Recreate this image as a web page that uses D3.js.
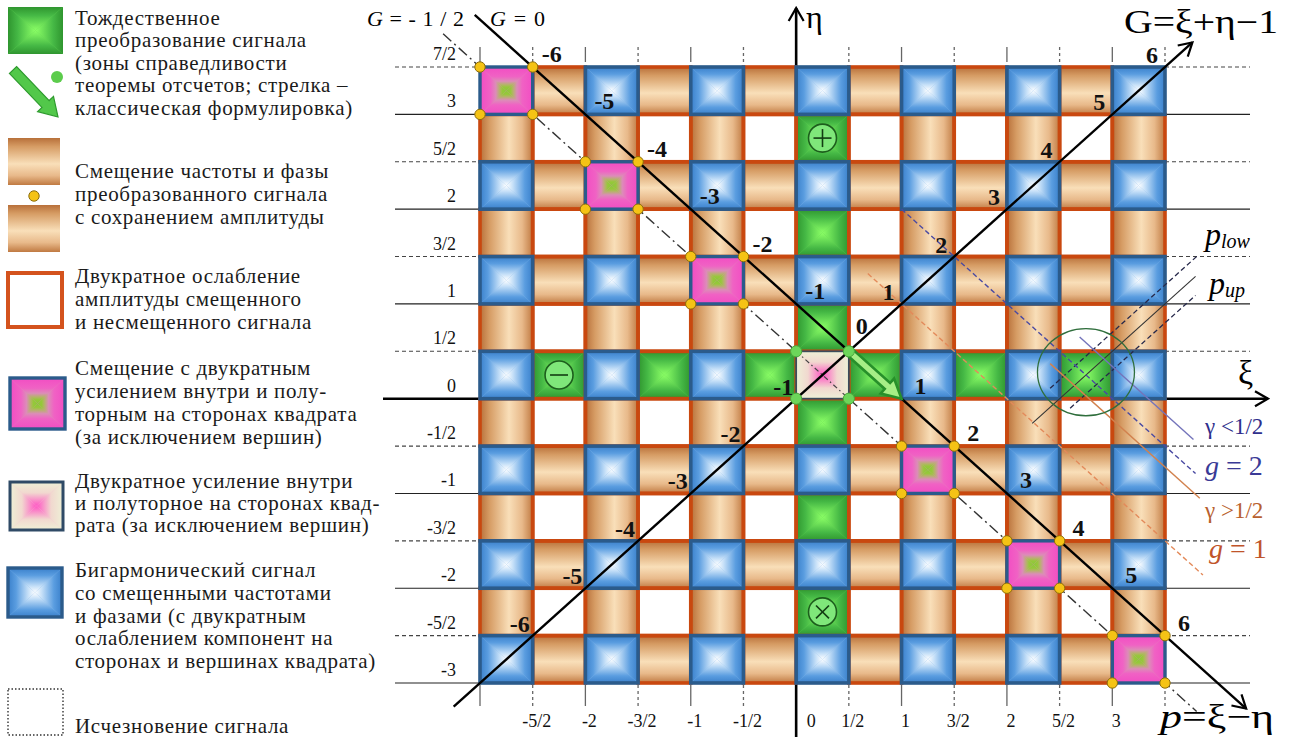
<!DOCTYPE html>
<html>
<head>
<meta charset="utf-8">
<script src="https://cdn.jsdelivr.net/npm/d3@7"></script>
<style>
  body { margin: 0; background: #fff; }
  svg { display: block; }
  svg text { font-family: "Liberation Serif", "Times New Roman", Tinos, Times, "DejaVu Serif", "Noto Serif", serif; }
</style>
</head>
<body>
<svg id="chart" width="1291" height="743"></svg>
<script>
// ---- data -------------------------------------------------------------
// half-step grid positions along ξ and η
const xTickValues = [-3, -2.5, -2, -1.5, -1, -0.5, 0, 0.5, 1, 1.5, 2, 2.5, 3, 3.5];
const xTickLabels = ["", "-5/2", "-2", "-3/2", "-1", "-1/2", "0", "1/2", "1", "3/2", "2", "5/2", "3", ""];
const yTickValues = [3.5, 3, 2.5, 2, 1.5, 1, 0.5, 0, -0.5, -1, -1.5, -2, -2.5, -3];
const yTickLabels = ["7/2", "3", "5/2", "2", "3/2", "1", "1/2", "0", "-1/2", "-1", "-3/2", "-2", "-5/2", "-3"];

// cell types, rows from η = 3..7/2 (top) down to η = -3..-5/2; columns ξ = -3 .. 7/2
// B bigarmonic, P amplified shift, C centre square, o / | frequency shift bars,
// w halved amplitude, g identity, + - x identity with marker
const cellRows = [
  "PoBoBoBoBoBoB",
  "|w|w|w+w|w|w|",
  "BoPoBoBoBoBoB",
  "|w|w|wgw|w|w|",
  "BoBoPoBoBoBoB",
  "|w|w|wgw|w|w|",
  "B-BgBgCgBgBgB",
  "|w|w|wgw|w|w|",
  "BoBoBoBoPoBoB",
  "|w|w|wgw|w|w|",
  "BoBoBoBoBoPoB",
  "|w|w|wxw|w|w|",
  "BoBoBoBoBoBoP"
];

// numbering along the diagonal axes
const gAxisLabels = [-6, -5, -4, -3, -2, -1, 1, 2, 3, 4, 5, 6]; // G on the line ξ = η
const pAxisLabels = [-6, -5, -4, -3, -2, -1, 1, 2, 3, 4, 5, 6]; // p on the line G = 0
const originLabel = 0;

// diagonal reference lines: G = ξ+η−1 of the main and auxiliary lines
const mainG = 0;
const halfG = -0.5;
const mainGSpan = [-3.05, 4.27];   // ξ range of the p axis (G = 0)
const halfGSpan = [-3.35, 3.8];    // ξ range of the G = -1/2 line
const mainPSpan = [-3.25, 3.76];   // ξ range of the G axis (p = 0)

// sampling-zone guide lines near the right edge
const pGuideLevels = [2.3, 2.5, 2.7];               // p = ξ−η : p_low, centre, p_up
const pGuideSpans = [[2.41, 3.80], [2.24, 3.79], [2.60, 3.79]];
const gGuideLevels = [2.34, 2, 1.78, 1];           // G : γ<1/2, g=2, γ>1/2, g=1
const gGuideSpans = [[2.69, 3.77], [1.0, 3.79], [2.41, 3.83], [0.68, 3.86]];
const zoneCentre = [2.75, 0.28];
const zoneRadius = 0.46;

// legend
const legendItems = [
  { kind: "green", lines: ["Тождественное", "преобразование сигнала", "(зоны справедливости", "теоремы отсчетов; стрелка –", "классическая формулировка)"] },
  { kind: "orange", lines: ["Смещение частоты и фазы", "преобразованного сигнала", "с сохранением амплитуды"] },
  { kind: "outline", lines: ["Двукратное ослабление", "амплитуды смещенного", "и несмещенного сигнала"] },
  { kind: "pink", lines: ["Смещение с двукратным", "усилением внутри и полу-", "торным на сторонах квадрата", "(за исключением вершин)"] },
  { kind: "centre", lines: ["Двукратное усиление внутри", "и полуторное на сторонах квад-", "рата (за исключением вершин)"] },
  { kind: "blue", lines: ["Бигармонический сигнал", "со смещенными частотами", "и фазами (с двукратным", "ослаблением компонент на", "сторонах и вершинах квадрата)"] },
  { kind: "dotted", lines: ["Исчезновение сигнала"] }
];

// ---- layout & styles -------------------------------------------------
const svg = d3.select("#chart");
const defs = svg.append("defs");
const x = d3.scaleLinear().domain([-3, 3.5]).range([480, 1165]);
const y = d3.scaleLinear().domain([-3, 3.5]).range([683, 67]);
const half = 0.5;

const RED = "#c9480f";
const BLUE_EDGE = "#2b5b8b";

function txt(sel, tx, ty, size) {
  return sel.append("text").attr("x", tx).attr("y", ty).attr("font-size", size);
}

function pyramidDefs(id, stops) {
  const dirs = { t: [0, 0, 0, 1], b: [0, 1, 0, 0], l: [0, 0, 1, 0], r: [1, 0, 0, 0] };
  Object.entries(dirs).forEach(([k, [x1, y1, x2, y2]]) => {
    const g = defs.append("linearGradient").attr("id", `${id}-${k}`)
      .attr("x1", x1).attr("y1", y1).attr("x2", x2).attr("y2", y2);
    stops.forEach(([o, c]) => g.append("stop").attr("offset", o).attr("stop-color", c));
  });
}
pyramidDefs("blue", [[0, "#3a80cb"], [0.3, "#5a9de0"], [0.75, "#c6e0f8"], [1, "#ffffff"]]);
pyramidDefs("green", [[0, "#2f952f"], [0.35, "#45b845"], [1, "#8cff66"]]);
pyramidDefs("pink", [[0, "#f24dc3"], [0.4, "#f062c4"], [0.6, "#dc8cb8"], [0.75, "#b4b468"], [0.85, "#96c83a"], [1, "#8cc83a"]]);
pyramidDefs("centre", [[0, "#eef0d6"], [0.45, "#f1d8cf"], [1, "#ff55c4"]]);

function cylinder(id, vertical) {
  const g = defs.append("linearGradient").attr("id", id)
    .attr("x1", 0).attr("y1", 0).attr("x2", vertical ? 0 : 1).attr("y2", vertical ? 1 : 0);
  [[0, "#b8703a"], [0.18, "#d69c64"], [0.55, "#f9dfb9"], [0.8, "#e8b98a"], [1, "#c07a42"]]
    .forEach(([o, c]) => g.append("stop").attr("offset", o).attr("stop-color", c));
}
cylinder("barH", true);   // bar lying along ξ: shading varies along η
cylinder("barV", false);  // bar lying along η: shading varies along ξ

function drawPyramid(g, x0, y0, w, h, id, under) {
  const cx = x0 + w / 2, cy = y0 + h / 2;
  g.append("rect").attr("x", x0).attr("y", y0).attr("width", w).attr("height", h).attr("fill", under);
  const tris = [
    ["t", [[x0, y0], [x0 + w, y0], [cx, cy]]],
    ["b", [[x0, y0 + h], [x0 + w, y0 + h], [cx, cy]]],
    ["l", [[x0, y0], [x0, y0 + h], [cx, cy]]],
    ["r", [[x0 + w, y0], [x0 + w, y0 + h], [cx, cy]]]
  ];
  tris.forEach(([k, pts]) => g.append("polygon")
    .attr("points", pts.map(p => p.join(",")).join(" "))
    .attr("fill", `url(#${id}-${k})`));
}

function blockArrow(x1, y1, x2, y2, shaftW, headW, headL) {
  const dx = x2 - x1, dy = y2 - y1, L = Math.hypot(dx, dy);
  const ux = dx / L, uy = dy / L, nx = -uy, ny = ux;
  const bx = x2 - ux * headL, by = y2 - uy * headL;
  const pts = [
    [x1 + nx * shaftW / 2, y1 + ny * shaftW / 2],
    [bx + nx * shaftW / 2, by + ny * shaftW / 2],
    [bx + nx * headW / 2, by + ny * headW / 2],
    [x2, y2],
    [bx - nx * headW / 2, by - ny * headW / 2],
    [bx - nx * shaftW / 2, by - ny * shaftW / 2],
    [x1 - nx * shaftW / 2, y1 - ny * shaftW / 2]
  ];
  return "M" + pts.map(p => p.join(",")).join("L") + "Z";
}

// open chevron arrowhead
defs.append("marker").attr("id", "chev")
  .attr("viewBox", "-14 -9 16 18").attr("refX", 0).attr("refY", 0)
  .attr("markerWidth", 16).attr("markerHeight", 18)
  .attr("markerUnits", "userSpaceOnUse").attr("orient", "auto")
  .append("path").attr("d", "M-13,-7.5 L0,0 L-13,7.5")
  .attr("fill", "none").attr("stroke", "#000").attr("stroke-width", 2.2);

// ---- reference lines outside the grid --------------------------------
const ref = svg.append("g");
yTickValues.forEach(v => {
  const dashed = v % 1 !== 0;
  [[395, x(-3)], [x(3.5), 1250]].forEach(([a, b]) => {
    if (v === 0) return;
    ref.append("line").attr("x1", a).attr("x2", b).attr("y1", y(v)).attr("y2", y(v))
      .attr("stroke", dashed ? "#444" : "#222").attr("stroke-width", 1.1)
      .attr("stroke-dasharray", dashed ? "4,3" : null);
  });
});
xTickValues.forEach(v => {
  if (v === 0) return;
  const dashed = v % 1 !== 0;
  [[47, 62], [685, 706]].forEach(([a, b]) => {
    ref.append("line").attr("x1", x(v)).attr("x2", x(v)).attr("y1", a).attr("y2", b)
      .attr("stroke", "#666").attr("stroke-width", 1.3)
      .attr("stroke-dasharray", dashed ? "3,3" : null);
  });
});

// main axes (under the grid)
ref.append("line").attr("x1", 383).attr("x2", 1268).attr("y1", y(0)).attr("y2", y(0))
  .attr("stroke", "#000").attr("stroke-width", 2.4).attr("marker-end", "url(#chev)");
ref.append("line").attr("x1", x(0)).attr("x2", x(0)).attr("y1", 737).attr("y2", 8)
  .attr("stroke", "#000").attr("stroke-width", 2.6).attr("marker-end", "url(#chev)");

// tick labels
xTickValues.forEach((v, i) => {
  if (!xTickLabels[i]) return;
  txt(svg, x(v) + (v === 0 ? 15 : 4), 727, 18)
    .attr("text-anchor", "middle").attr("fill", "#111").text(xTickLabels[i]);
});
yTickValues.forEach((v, i) => {
  txt(svg, 456, y(v) - 7, 18)
    .attr("text-anchor", "end").attr("fill", "#111").text(yTickLabels[i]);
});

// ---- grid cells ------------------------------------------------------
const cells = [];
cellRows.forEach((row, r) => {
  const eta0 = 3 - r * half;
  [...row].forEach((code, c) => {
    const xi0 = -3 + c * half;
    cells.push({ code, xi0, eta0,
      px: x(xi0), py: y(eta0 + half),
      w: x(xi0 + half) - x(xi0), h: y(eta0) - y(eta0 + half) });
  });
});

const flat = svg.append("g");
cells.filter(d => "o|w".includes(d.code)).forEach(d => {
  flat.append("rect").attr("x", d.px).attr("y", d.py).attr("width", d.w).attr("height", d.h)
    .attr("fill", d.code === "w" ? "#fff" : d.code === "o" ? "url(#barH)" : "url(#barV)");
});
cells.filter(d => "g+-x".includes(d.code)).forEach(d => {
  drawPyramid(flat, d.px, d.py, d.w, d.h, "green", "#5fcf50");
});
cells.filter(d => "o|wg+-x".includes(d.code)).forEach(d => {
  flat.append("rect").attr("x", d.px).attr("y", d.py).attr("width", d.w).attr("height", d.h)
    .attr("fill", "none").attr("stroke", RED).attr("stroke-width", 3.6);
});

// line G = -1/2 (ξ + η = 1/2), dash-dot
const dashDot = "11,4,2,4";
function gLinePts(G, span) { return span.map(xi => [x(xi), y(G + 1 - xi)]); }
function pLinePts(P, span) { return span.map(xi => [x(xi), y(xi - P)]); }
const hl = gLinePts(halfG, halfGSpan);
svg.append("line").attr("x1", hl[0][0]).attr("y1", hl[0][1]).attr("x2", hl[1][0]).attr("y2", hl[1][1])
  .attr("stroke", "#333").attr("stroke-width", 1.4).attr("stroke-dasharray", dashDot);

// squares
const sq = svg.append("g");
cells.filter(d => d.code === "B").forEach(d => {
  drawPyramid(sq, d.px, d.py, d.w, d.h, "blue", "#7fb5ea");
  sq.append("rect").attr("x", d.px).attr("y", d.py).attr("width", d.w).attr("height", d.h)
    .attr("fill", "none").attr("stroke", BLUE_EDGE).attr("stroke-width", 3.6);
});
cells.filter(d => d.code === "P").forEach(d => {
  drawPyramid(sq, d.px, d.py, d.w, d.h, "pink", "#e08cb8");
  sq.append("rect").attr("x", d.px).attr("y", d.py).attr("width", d.w).attr("height", d.h)
    .attr("fill", "none").attr("stroke", BLUE_EDGE).attr("stroke-width", 3.4);
});
const centreCell = cells.find(d => d.code === "C");
drawPyramid(sq, centreCell.px, centreCell.py, centreCell.w, centreCell.h, "centre", "#f3c9d6");
sq.append("rect").attr("x", centreCell.px).attr("y", centreCell.py)
  .attr("width", centreCell.w).attr("height", centreCell.h)
  .attr("fill", "none").attr("stroke", "#3b4c5c").attr("stroke-width", 1.8);
// dash-dot across the centre square
sq.append("line")
  .attr("x1", x(centreCell.xi0)).attr("y1", y(centreCell.eta0 + half))
  .attr("x2", x(centreCell.xi0 + half)).attr("y2", y(centreCell.eta0))
  .attr("stroke", "#444").attr("stroke-width", 1.2).attr("stroke-dasharray", "5,3,1.5,3");

// identity markers ⊕ ⊖ ⊗
cells.filter(d => "+-x".includes(d.code)).forEach(d => {
  const cx = d.px + d.w / 2, cy = d.py + d.h / 2, r = 14, s = 9;
  sq.append("circle").attr("cx", cx).attr("cy", cy).attr("r", r)
    .attr("fill", "#7fe77a").attr("stroke", "#1d5e1d").attr("stroke-width", 1.6);
  const segs = d.code === "+" ? [[-s, 0, s, 0], [0, -s, 0, s]]
    : d.code === "-" ? [[-s, 0, s, 0]]
    : [[-s * 0.72, -s * 0.72, s * 0.72, s * 0.72], [-s * 0.72, s * 0.72, s * 0.72, -s * 0.72]];
  segs.forEach(([a, b, c2, e]) => sq.append("line")
    .attr("x1", cx + a).attr("y1", cy + b).attr("x2", cx + c2).attr("y2", cy + e)
    .attr("stroke", "#123d12").attr("stroke-width", 1.6));
});

// ---- guide lines on the right ---------------------------------------
const guides = svg.append("g");
const pGuideStyle = [
  { stroke: "#26284a", dash: "5,3", w: 1.3 },
  { stroke: "#333", dash: null, w: 1.1 },
  { stroke: "#26284a", dash: "5,3", w: 1.3 }
];
pGuideLevels.forEach((P, i) => {
  const pts = pLinePts(P, pGuideSpans[i]);
  guides.append("line").attr("x1", pts[0][0]).attr("y1", pts[0][1]).attr("x2", pts[1][0]).attr("y2", pts[1][1])
    .attr("stroke", pGuideStyle[i].stroke).attr("stroke-width", pGuideStyle[i].w)
    .attr("stroke-dasharray", pGuideStyle[i].dash);
});
const gGuideStyle = [
  { stroke: "#7474bb", dash: null, w: 1.4 },
  { stroke: "#4a4aa2", dash: "5,3", w: 1.4 },
  { stroke: "#d2824e", dash: null, w: 1.4 },
  { stroke: "#e38a5a", dash: "5,3", w: 1.4 }
];
gGuideLevels.forEach((G, i) => {
  const pts = gLinePts(G, gGuideSpans[i]);
  guides.append("line").attr("x1", pts[0][0]).attr("y1", pts[0][1]).attr("x2", pts[1][0]).attr("y2", pts[1][1])
    .attr("stroke", gGuideStyle[i].stroke).attr("stroke-width", gGuideStyle[i].w)
    .attr("stroke-dasharray", gGuideStyle[i].dash);
});
guides.append("ellipse")
  .attr("cx", x(zoneCentre[0])).attr("cy", y(zoneCentre[1]))
  .attr("rx", x(zoneCentre[0] + zoneRadius) - x(zoneCentre[0]))
  .attr("ry", y(zoneCentre[1]) - y(zoneCentre[1] + zoneRadius))
  .attr("fill", "none").attr("stroke", "#2f6e3c").attr("stroke-width", 1.3);

// ---- diagonal axes ---------------------------------------------------
const gAxis = pLinePts(0, mainPSpan);
svg.append("line").attr("x1", gAxis[0][0]).attr("y1", gAxis[0][1]).attr("x2", gAxis[1][0]).attr("y2", gAxis[1][1])
  .attr("stroke", "#000").attr("stroke-width", 2.4).attr("marker-end", "url(#chev)");
const pAxis = gLinePts(mainG, mainGSpan);
svg.append("line").attr("x1", pAxis[0][0]).attr("y1", pAxis[0][1]).attr("x2", pAxis[1][0]).attr("y2", pAxis[1][1])
  .attr("stroke", "#000").attr("stroke-width", 2.4).attr("marker-end", "url(#chev)");

// green arrow: classical sampling theorem, from (1/2,1/2) to (1,0)
svg.append("path")
  .attr("d", blockArrow(x(0.5), y(0.5), x(1), y(0), 8, 20, 19))
  .attr("fill", "#a6ee86").attr("stroke", "#27902a").attr("stroke-width", 2.6)
  .attr("stroke-linejoin", "miter");

// corner dots
const dots = svg.append("g");
cells.filter(d => d.code === "P").forEach(d => {
  [[0, 0], [1, 0], [0, 1], [1, 1]].forEach(([i, j]) => {
    dots.append("circle").attr("cx", x(d.xi0 + i * half)).attr("cy", y(d.eta0 + j * half)).attr("r", 5.2)
      .attr("fill", "#f5c315").attr("stroke", "#8c6d0c").attr("stroke-width", 1);
  });
});
[[0, 0], [1, 0], [0, 1], [1, 1]].forEach(([i, j]) => {
  dots.append("circle").attr("cx", x(centreCell.xi0 + i * half)).attr("cy", y(centreCell.eta0 + j * half))
    .attr("r", 5.6).attr("fill", "#6cd65a").attr("stroke", "#4aa83c").attr("stroke-width", 1);
});

// diagonal numbering
const numStyle = t => t.attr("font-size", 24).attr("font-weight", "bold")
  .attr("text-anchor", "middle").attr("fill", "#111");
gAxisLabels.forEach(G => {
  const v = (G + 1) / 2;
  svg.append("text").attr("x", x(v) - 13).attr("y", y(v) - 4).call(numStyle).text(G);
});
pAxisLabels.forEach(P => {
  const xi = (1 + P) / 2, eta = (1 - P) / 2;
  svg.append("text").attr("x", x(xi) + 19).attr("y", y(eta) - 5).call(numStyle).text(P);
});
svg.append("text").attr("x", x(0.5) + 13).attr("y", y(0.5) - 17).call(numStyle).text(originLabel);

// ---- axis titles -----------------------------------------------------
txt(svg, 806, 28, 32).text("η");
txt(svg, 1238, 384, 34).text("ξ");
txt(svg, 1124, 33, 33)
  .attr("textLength", 154).attr("lengthAdjust", "spacingAndGlyphs").text("G=ξ+η−1");
const pt = txt(svg, 1160, 728, 34).attr("textLength", 114).attr("lengthAdjust", "spacingAndGlyphs");
pt.append("tspan").attr("font-style", "italic").text("p");
pt.append("tspan").text("=ξ−η");
const gHalf = txt(svg, 367, 26, 22).attr("textLength", 97).attr("lengthAdjust", "spacing");
gHalf.append("tspan").attr("font-style", "italic").text("G");
gHalf.append("tspan").text("=-1/2");
const gZero = txt(svg, 490, 26, 22).attr("textLength", 55).attr("lengthAdjust", "spacing");
gZero.append("tspan").attr("font-style", "italic").text("G");
gZero.append("tspan").text("=0");

// right-side annotations
function subLabel(tx, ty, main, sub) {
  const t = txt(svg, tx, ty, 32).attr("font-style", "italic");
  t.append("tspan").text(main);
  t.append("tspan").attr("font-size", 20).attr("dy", 3).text(sub);
}
subLabel(1205, 245, "p", "low");
subLabel(1209, 294, "p", "up");
txt(svg, 1205, 434, 23).attr("fill", "#2f2f8c").text("γ <1/2");
const g2 = txt(svg, 1205, 475, 28).attr("fill", "#3a3a96");
g2.append("tspan").attr("font-style", "italic").text("g");
g2.append("tspan").text(" = 2");
txt(svg, 1205, 518, 23).attr("fill", "#b8602e").text("γ >1/2");
const g1 = txt(svg, 1209, 558, 28).attr("fill", "#c0542a");
g1.append("tspan").attr("font-style", "italic").text("g");
g1.append("tspan").text(" = 1");

// ---- legend ----------------------------------------------------------
const lg = svg.append("g");
const legendBaselines = [
  [25, 47, 70, 92, 115],
  [178, 201, 224],
  [283, 306, 329],
  [375, 398, 421, 444],
  [488, 510, 532],
  [577, 600, 623, 645, 668],
  [733]
];
legendItems.forEach((item, k) => {
  item.lines.forEach((line, i) => {
    txt(lg, 75, legendBaselines[k][i], 21).attr("fill", "#1a1a1a")
      .attr("letter-spacing", 0.7).text(line);
  });
});
// swatches
drawPyramid(lg, 8, 7, 55, 47, "green", "#5fcf50");
lg.append("path").attr("d", blockArrow(13, 70, 58, 117, 10, 22, 18))
  .attr("fill", "#52c84a").attr("stroke", "#2e9a2e").attr("stroke-width", 1.2);
lg.append("circle").attr("cx", 57).attr("cy", 77).attr("r", 6).attr("fill", "#5ccc4c");
lg.append("rect").attr("x", 8).attr("y", 138).attr("width", 52).attr("height", 47).attr("fill", "url(#barH)");
lg.append("circle").attr("cx", 34).attr("cy", 196).attr("r", 5.2).attr("fill", "#f5c315").attr("stroke", "#8c6d0c");
lg.append("rect").attr("x", 8).attr("y", 205).attr("width", 52).attr("height", 47).attr("fill", "url(#barH)");
lg.append("rect").attr("x", 8).attr("y", 273).attr("width", 54).attr("height", 54)
  .attr("fill", "#fff").attr("stroke", "#d4531d").attr("stroke-width", 4);
drawPyramid(lg, 10, 378, 55, 51, "pink", "#e08cb8");
lg.append("rect").attr("x", 10).attr("y", 378).attr("width", 55).attr("height", 51)
  .attr("fill", "none").attr("stroke", BLUE_EDGE).attr("stroke-width", 3.4);
drawPyramid(lg, 10, 482, 53, 48, "centre", "#f3c9d6");
lg.append("rect").attr("x", 10).attr("y", 482).attr("width", 53).attr("height", 48)
  .attr("fill", "none").attr("stroke", "#2f4a66").attr("stroke-width", 3);
drawPyramid(lg, 8, 568, 54, 49, "blue", "#7fb5ea");
lg.append("rect").attr("x", 8).attr("y", 568).attr("width", 54).attr("height", 49)
  .attr("fill", "none").attr("stroke", BLUE_EDGE).attr("stroke-width", 3.4);
lg.append("rect").attr("x", 8).attr("y", 689).attr("width", 55).attr("height", 46)
  .attr("fill", "none").attr("stroke", "#333").attr("stroke-width", 1.4).attr("stroke-dasharray", "1.5,2");
</script>
</body>
</html>
